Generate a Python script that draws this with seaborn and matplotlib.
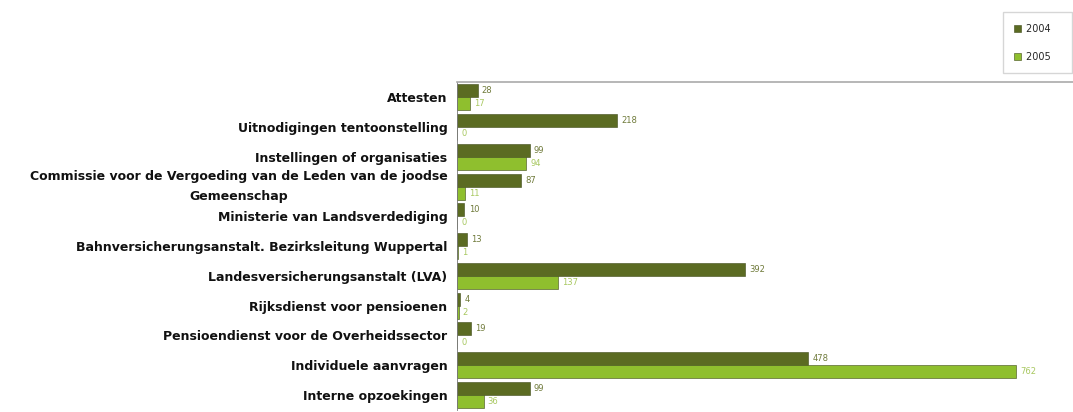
import numpy as np
import pandas as pd
import seaborn as sns
import matplotlib.pyplot as plt

categories = [
    "Attesten",
    "Uitnodigingen tentoonstelling",
    "Instellingen of organisaties",
    "Commissie voor de Vergoeding van de Leden van de joodse\nGemeenschap",
    "Ministerie van Landsverdediging",
    "Bahnversicherungsanstalt. Bezirksleitung Wuppertal",
    "Landesversicherungsanstalt (LVA)",
    "Rijksdienst voor pensioenen",
    "Pensioendienst voor de Overheidssector",
    "Individuele aanvragen",
    "Interne opzoekingen",
]
years = ["2004", "2005"]
values_2004 = [28, 218, 99, 87, 10, 13, 392, 4, 19, 478, 99]
values_2005 = [17, 0, 94, 11, 0, 1, 137, 2, 0, 762, 36]

df = pd.DataFrame({
    "categorie": categories * 2,
    "jaar": [years[0]] * len(categories) + [years[1]] * len(categories),
    "aantal": values_2004 + values_2005,
})

colors = {"2004": "#5b6b22", "2005": "#8fbf2e"}
label_colors = {"2004": "#6f7a3a", "2005": "#a8c860"}

sns.set_style("white")
fig = plt.figure(figsize=(10.73, 4.12), dpi=100)
ax = fig.add_axes([0.426, 0.005, 0.574, 0.795])

sns.barplot(data=df, y="categorie", x="aantal", hue="jaar", hue_order=years,
            palette=colors, orient="h", width=0.88, saturation=1,
            edgecolor="#3f4a18", linewidth=0.4, ax=ax)

for cont, yr in zip(ax.containers, years):
    ax.bar_label(cont, padding=3, fontsize=6, color=label_colors[yr])

ax.set_xlim(0, 839)
ax.set_xlabel("")
ax.set_ylabel("")
ax.set_xticks([])
ax.tick_params(axis="y", which="major", length=0, pad=7)
for lab in ax.get_yticklabels():
    lab.set_fontweight("bold")
    lab.set_fontsize(9)
    lab.set_color("#111111")
    if "\n" in lab.get_text():
        lab.set_multialignment("center")
        lab.set_linespacing(1.75)
        lab.set_verticalalignment("center")
ax.set_yticks(np.arange(-0.5, len(categories), 1), minor=True)
ax.tick_params(axis="y", which="minor", length=3, color="#888888", width=0.6)

for s in ["right", "bottom"]:
    ax.spines[s].set_visible(False)
ax.spines["top"].set_color("#aaaaaa")
ax.spines["top"].set_linewidth(1.2)
ax.spines["left"].set_color("#777777")
ax.spines["left"].set_linewidth(0.6)

handles, _ = ax.get_legend_handles_labels()
ax.legend(handles, [y + "   " for y in years], loc="upper right",
          bbox_to_anchor=(0.999, 0.971), bbox_transform=fig.transFigure,
          fontsize=7, frameon=True, fancybox=False, edgecolor="#cccccc",
          handlelength=0.7, handleheight=0.7, handletextpad=0.5, labelspacing=1.85,
          borderpad=1.2, borderaxespad=0)

fig.savefig("out.png", dpi=100)
